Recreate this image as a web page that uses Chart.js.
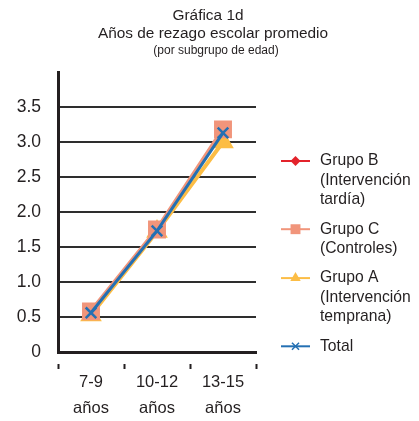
<!DOCTYPE html>
<html>
<head>
<meta charset="utf-8">
<script src="https://cdn.jsdelivr.net/npm/chart.js@4.4.1/dist/chart.umd.min.js"></script>
<style>
  html, body { margin: 0; padding: 0; background: #ffffff; }
  #wrap { width: 419px; height: 421px; position: relative; }
</style>
</head>
<body>
<div id="wrap"><canvas id="c" width="419" height="421"></canvas></div>
<script>
// Age groups along the x axis (two-line labels)
const categories = [["7-9", "años"], ["10-12", "años"], ["13-15", "años"]];

// Average years of school lag per group
const grupoB = [0.57, 1.75, 3.15];
const grupoC = [0.58, 1.75, 3.18];
const grupoA = [0.53, 1.72, 3.00];
const total  = [0.56, 1.73, 3.13];

// Legend texts (multi-line)
const labelB = ["Grupo B", "(Intervención", "tardía)"];
const labelC = ["Grupo C", "(Controles)"];
const labelA = ["Grupo A", "(Intervención", "temprana)"];
const labelT = ["Total"];

// Y axis tick values shown
const yTicks = [0, 0.5, 1.0, 1.5, 2.0, 2.5, 3.0, 3.5];

const titleLines = ["Gráfica 1d", "Años de rezago escolar promedio"];
const subtitle = "(por subgrupo de edad)";

const INK = "#231f20";
const FONT = "Liberation Sans, Arial, Helvetica, sans-serif";

const datasets = [
  { label: labelB, data: grupoB, borderColor: "#e3232b", backgroundColor: "#e3232b",
    borderWidth: 3, pointStyle: "rectRot", pointRadius: 6, order: 3,
    legendRadius: 5 },
  { label: labelC, data: grupoC, borderColor: "#f1957b", backgroundColor: "#f1957b",
    borderWidth: 4.5, pointStyle: "rect", pointRadius: 9.5, order: 1,
    legendRadius: 7 },
  { label: labelA, data: grupoA, borderColor: "#fcbd45", backgroundColor: "#fcbd45",
    borderWidth: 4, pointStyle: "triangle", pointRadius: 8.5, order: 2,
    legendRadius: 6 },
  { label: labelT, data: total, borderColor: "#2470b3", backgroundColor: "#2470b3",
    borderWidth: 3, pointStyle: "crossRot", pointRadius: 7.5, pointBorderWidth: 2.5,
    order: 0, legendRadius: 5 }
].map(d => Object.assign({ fill: false, tension: 0, pointHoverRadius: d.pointRadius,
  pointBorderColor: d.borderColor, pointBackgroundColor: d.backgroundColor }, d));

function drawMarker(ctx, style, x, y, r, color) {
  ctx.save();
  ctx.fillStyle = color;
  ctx.strokeStyle = color;
  ctx.beginPath();
  if (style === "rectRot") {
    ctx.moveTo(x, y - r); ctx.lineTo(x + r, y); ctx.lineTo(x, y + r); ctx.lineTo(x - r, y);
    ctx.closePath(); ctx.fill();
  } else if (style === "rect") {
    const s = r * Math.SQRT1_2;
    ctx.rect(x - s, y - s, 2 * s, 2 * s); ctx.fill();
  } else if (style === "triangle") {
    ctx.moveTo(x, y - r);
    ctx.lineTo(x + r * 0.866, y + r * 0.5);
    ctx.lineTo(x - r * 0.866, y + r * 0.5);
    ctx.closePath(); ctx.fill();
  } else if (style === "crossRot") {
    const s = r * Math.SQRT1_2;
    ctx.lineWidth = 1.5;
    ctx.moveTo(x - s, y - s); ctx.lineTo(x + s, y + s);
    ctx.moveTo(x - s, y + s); ctx.lineTo(x + s, y - s);
    ctx.stroke();
  }
  ctx.restore();
}

// Titles above and multi-line legend on the right
const decorations = {
  id: "decorations",
  afterDraw(chart) {
    const ctx = chart.ctx;
    const area = chart.chartArea;
    ctx.save();
    ctx.fillStyle = INK;
    ctx.textAlign = "center";
    ctx.textBaseline = "middle";
    ctx.font = "15.4px " + FONT;
    ctx.fillText(titleLines[0], 208, 16);
    ctx.fillText(titleLines[1], 213, 34);
    ctx.font = "12px " + FONT;
    ctx.fillText(subtitle, 216, 51);

    // legend
    const lineX0 = area.right + 25, lineX1 = area.right + 54, textX = area.right + 64;
    const lineH = 19.3, groupGap = 10.3;
    let y = 161;
    ctx.textAlign = "left";
    ctx.font = "15.7px " + FONT;
    chart.data.datasets.forEach(ds => {
      ctx.strokeStyle = ds.borderColor;
      ctx.lineWidth = 2;
      ctx.beginPath();
      ctx.moveTo(lineX0, y); ctx.lineTo(lineX1, y);
      ctx.stroke();
      drawMarker(ctx, ds.pointStyle, (lineX0 + lineX1) / 2, y, ds.legendRadius, ds.borderColor);
      ctx.fillStyle = INK;
      ds.label.forEach((t, i) => ctx.fillText(t, textX, y + i * lineH));
      y += ds.label.length * lineH + groupGap;
    });
    ctx.restore();
  }
};

new Chart(document.getElementById("c"), {
  type: "line",
  data: { labels: categories, datasets: datasets },
  options: {
    responsive: false,
    animation: false,
    events: [],
    layout: { padding: { left: 0, top: 72, right: 163, bottom: 0 } },
    plugins: {
      legend: { display: false },
      title: { display: false },
      tooltip: { enabled: false }
    },
    scales: {
      x: {
        type: "category",
        offset: true,
        afterFit(scale) { scale.height = 69; },
        border: { display: true, color: INK, width: 3 },
        grid: {
          offset: true,
          drawOnChartArea: false,
          drawTicks: true,
          tickLength: 17,
          tickWidth: 2,
          tickColor: INK,
          tickBorderDash: [0, 10, 7, 100]
        },
        ticks: {
          color: INK,
          padding: 1,
          maxRotation: 0,
          font: { family: FONT, size: 16.5, lineHeight: 1.56 }
        }
      },
      y: {
        min: 0,
        max: 4,
        afterFit(scale) { scale.width = 58; },
        afterBuildTicks(scale) { scale.ticks = yTicks.map(v => ({ value: v })); },
        border: { display: true, color: INK, width: 3 },
        grid: { color: "#2e2e2e", lineWidth: 2, drawTicks: false },
        ticks: {
          color: INK,
          padding: 17,
          font: { family: FONT, size: 17.5 },
          callback: v => (v === 0 ? "0" : v.toFixed(1))
        }
      }
    }
  },
  plugins: [decorations]
});
</script>
</body>
</html>
